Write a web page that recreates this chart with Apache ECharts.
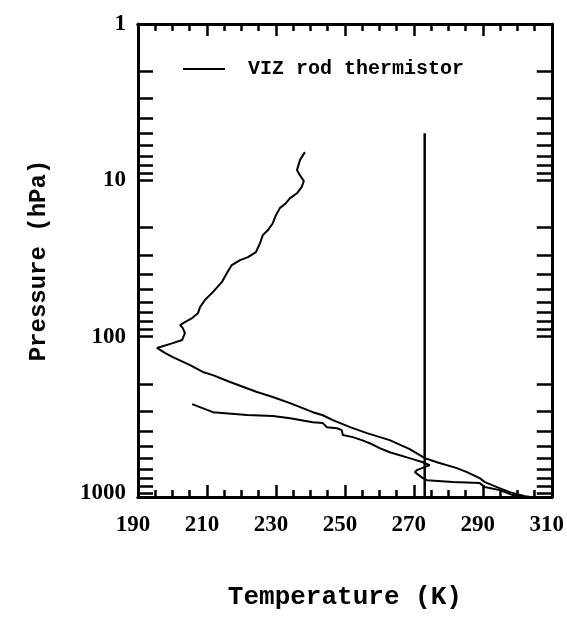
<!DOCTYPE html>
<html>
<head>
<meta charset="utf-8">
<script src="https://cdn.jsdelivr.net/npm/echarts@6/dist/echarts.min.js"></script>
<style>
  html, body { margin: 0; padding: 0; background: #fff; }
  #chart { width: 567px; height: 617px; }
</style>
</head>
<body>
<div id="chart"></div>
<script>
// sounding: temperature (K) and pressure (hPa)
const profileT = [238.4, 237.0, 236.1, 237.0, 238.1, 237.5, 236.1, 234.1, 232.9, 231.2, 230.0, 229.1, 227.7, 226.2, 225.4, 224.2, 221.9, 219.6, 217.2, 215.8, 214.3, 211.7, 209.4, 208.0, 207.4, 205.7, 203.6, 202.2, 203.0, 203.6, 202.8, 200.1, 195.5, 197.8, 200.1, 205.1, 208.8, 211.7, 216.7, 224.5, 229.1, 234.1, 240.7, 243.6, 246.5, 251.5, 256.4, 263.0, 268.8, 273.2, 276.7, 282.5, 285.4, 289.1, 290.6, 294.1, 297.8, 302.0]
const profileP = [6.6, 7.4, 8.6, 9.3, 10.1, 11.0, 12.1, 13.0, 14.0, 15.0, 16.7, 18.8, 20.8, 22.4, 25.2, 28.8, 31.0, 32.4, 34.8, 39.2, 44.8, 51.9, 58.3, 64.7, 70.7, 76.0, 80.7, 84.3, 88.1, 94.9, 105, 110, 118, 127, 135, 152, 168, 176, 195, 226, 243, 266, 304, 318, 342, 379, 414, 459, 524, 598, 635, 693, 735, 803, 851, 916, 987, 1045]

const lowerT = [205.7, 211.7, 221.6, 229.1, 234.1, 240.7, 243.6, 244.8, 247.7, 249.1, 249.4, 252.3, 254.9, 257.2, 260.1, 263.0, 269.7, 272.6, 274.6, 270.9, 270.3, 272.6, 273.8, 281.3, 289.1, 290.6, 294.9, 298.7, 303.5]
const lowerP = [270, 304, 317, 322, 332, 352, 357, 379, 385, 396, 426, 439, 459, 480, 516, 548, 607, 635, 663, 713, 735, 803, 827, 851, 864, 916, 958, 1031, 1055]

const freezeT = [273.15, 273.15]
const freezeP = [5, 1060]

const xLabels = [190, 210, 230, 250, 270, 290, 310]
const xMajorTicks = [210, 230, 250, 270, 290]
const yLabels = [1, 10, 100, 1000]
const yTicks = [1, 2, 3, 4, 5, 6, 7, 8, 9, 10, 20, 30, 40, 50, 60, 70, 80, 90, 100, 200, 300, 400, 500, 600, 700, 800, 900, 1000]

const pairs = (xs, ys) => xs.map((x, i) => [x, ys[i]])

const frame = { show: true, onZero: false, lineStyle: { color: '#000', width: 3 } }
const labelFont = { color: '#000', fontFamily: 'Liberation Serif', fontWeight: 'bold', fontSize: 23 }
const titleFont = { color: '#000', fontFamily: 'Liberation Mono', fontWeight: 'bold' }

function xAxis(pos, opts) {
  return Object.assign({
    type: 'value', position: pos, min: 190, max: 310,
    axisLine: frame, splitLine: { show: false }, axisLabel: { show: false },
    axisTick: { show: false }
  }, opts)
}
function yAxis(pos, opts) {
  return Object.assign({
    type: 'log', logBase: 10, position: pos, min: 1, max: 1060, inverse: true,
    axisLine: frame, splitLine: { show: false }, axisLabel: { show: false },
    axisTick: { show: true, inside: true, length: 15, customValues: yTicks, lineStyle: { color: '#000', width: 2.5 } }
  }, opts)
}

const chart = echarts.init(document.getElementById('chart'))
chart.setOption({
  backgroundColor: '#fff',
  animation: false,
  grid: { left: 138, right: 15, top: 24, bottom: 120 },
  legend: {
    data: ['VIZ rod thermistor'], left: 178, top: 54,
    icon: 'rect', itemWidth: 42, itemHeight: 2,
    textStyle: Object.assign({ fontSize: 20, padding: [0, 0, 0, 18] }, titleFont),
    itemStyle: { color: '#000' }
  },
  xAxis: [
    xAxis('bottom', {
      name: 'Temperature (K)', nameLocation: 'middle', nameGap: 100,
      nameTextStyle: Object.assign({ fontSize: 26, verticalAlign: 'middle' }, titleFont),
      axisLabel: Object.assign({ show: true, margin: 17, customValues: xLabels, padding: [0, 10, 0, 0], formatter: v => String(v) }, labelFont),
      axisTick: { show: true, inside: true, length: 12, customValues: xMajorTicks, lineStyle: { color: '#000', width: 2.5 } }
    }),
    xAxis('bottom', {
      interval: 5,
      axisTick: { show: true, inside: true, length: 7, lineStyle: { color: '#000', width: 2.5 } }
    }),
    xAxis('top', {
      axisTick: { show: true, inside: true, length: 12, customValues: xMajorTicks, lineStyle: { color: '#000', width: 2.5 } }
    }),
    xAxis('top', {
      interval: 5,
      axisTick: { show: true, inside: true, length: 7, lineStyle: { color: '#000', width: 2.5 } }
    })
  ],
  yAxis: [
    yAxis('left', {
      name: 'Pressure (hPa)', nameLocation: 'middle', nameGap: 99, nameRotate: 90,
      nameTextStyle: Object.assign({ fontSize: 24, verticalAlign: 'middle' }, titleFont),
      axisLabel: Object.assign({ show: true, margin: 12, customValues: yLabels, padding: [0, 0, 10, 0], formatter: v => String(v) }, labelFont)
    }),
    yAxis('right', {})
  ],
  series: [
    {
      name: 'VIZ rod thermistor', type: 'line', showSymbol: false, symbol: 'none',
      data: pairs(profileT, profileP), lineStyle: { color: '#000', width: 2 }, itemStyle: { color: '#000' }
    },
    {
      name: 'lower', type: 'line', showSymbol: false, symbol: 'none',
      data: pairs(lowerT, lowerP), lineStyle: { color: '#000', width: 2 }
    },
    {
      name: 'freezing', type: 'line', showSymbol: false, symbol: 'none',
      data: pairs(freezeT, freezeP), lineStyle: { color: '#000', width: 2.5 }
    }
  ]
})
</script>
</body>
</html>
